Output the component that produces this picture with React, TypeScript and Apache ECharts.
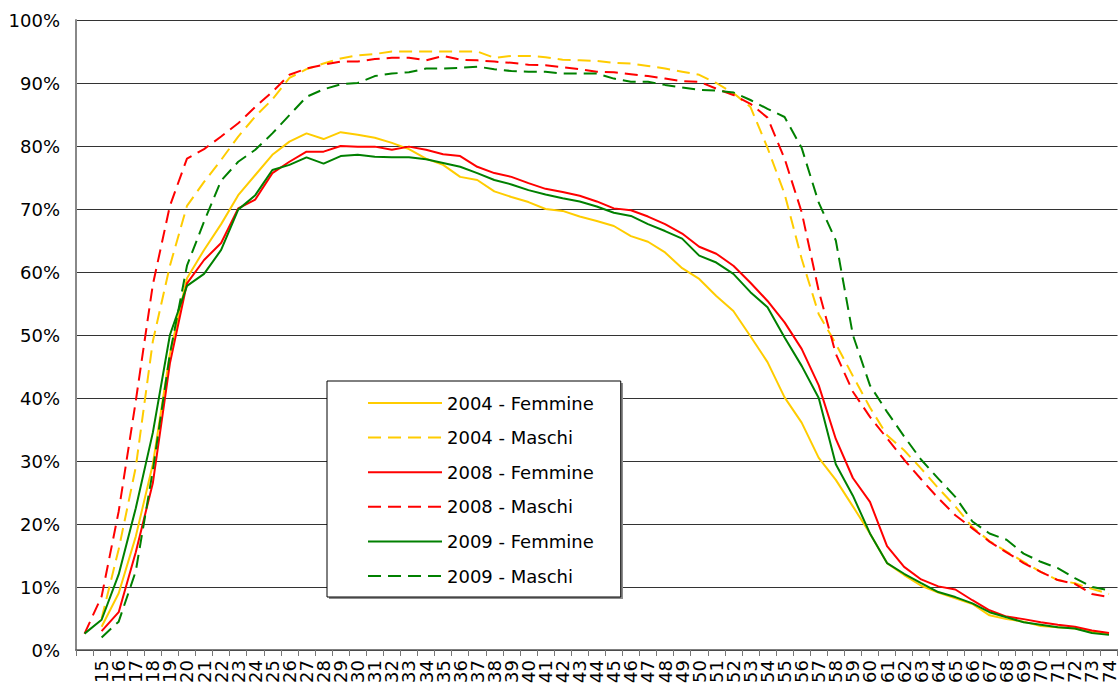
import React, { useEffect, useRef } from 'react';
import * as echarts from 'echarts';

const categories = ['', '15', '16', '17', '18', '19', '20', '21', '22', '23', '24', '25', '26', '27', '28', '29', '30', '31', '32', '33', '34', '35', '36', '37', '38', '39', '40', '41', '42', '43', '44', '45', '46', '47', '48', '49', '50', '51', '52', '53', '54', '55', '56', '57', '58', '59', '60', '61', '62', '63', '64', '65', '66', '67', '68', '69', '70', '71', '72', '73', '74'];

const yTicks = [0, 10, 20, 30, 40, 50, 60, 70, 80, 90, 100];

const f2004 = [null, 3.7, 9, 18, 29.5, 47, 59, 63.5, 67.6, 72.2, 75.4, 78.6, 80.7, 82, 81.1, 82.2, 81.8, 81.3, 80.5, 79.5, 78, 77, 75.1, 74.6, 72.8, 71.9, 71.1, 70, 69.7, 68.8, 68.1, 67.3, 65.7, 64.8, 63.1, 60.6, 58.9, 56.2, 53.8, 49.8, 45.7, 40.1, 36.1, 30.5, 27, 22.8, 18.5, 13.8, 11.9, 10.2, 9.1, 8.2, 7.3, 5.5, 4.9, 4.5, 3.8, 3.6, 3.4, 2.9, 2.6];
const m2004 = [null, 5, 16, 29, 49, 61, 70.5, 74.3, 77.8, 81.5, 84.7, 87.4, 90.8, 92.2, 93.1, 93.9, 94.4, 94.6, 95, 95, 95, 95, 95, 95, 94, 94.3, 94.3, 94.1, 93.7, 93.6, 93.5, 93.2, 93.1, 92.7, 92.3, 91.8, 91.3, 90, 88.4, 86.2, 79.7, 72.4, 62.1, 53.3, 48.6, 43.5, 38.5, 34.1, 31.7, 28.8, 25.7, 22.8, 19.5, 17.3, 15.6, 14, 12.4, 11.1, 10.6, 9.7, 8.9];
const f2008 = [null, 3.0, 6, 15.5, 26.5, 45.5, 58.2, 61.9, 64.6, 70.1, 71.5, 75.7, 77.5, 79.1, 79.1, 80, 79.9, 79.9, 79.4, 79.9, 79.4, 78.7, 78.4, 76.7, 75.7, 75.1, 74.1, 73.2, 72.7, 72.1, 71.2, 70.1, 69.8, 68.8, 67.6, 66.1, 64, 62.9, 61, 58.3, 55.4, 52, 47.8, 42, 33.5, 27.3, 23.5, 16.5, 13.2, 11.2, 10.1, 9.6, 7.9, 6.3, 5.3, 4.9, 4.4, 4.0, 3.7, 3.1, 2.7];
const m2008 = [2.6, 8.5, 22, 39.5, 58, 70.5, 78, 79.5, 81.5, 83.6, 86.2, 88.6, 91.3, 92.3, 92.9, 93.4, 93.4, 93.8, 94, 94, 93.6, 94.3, 93.7, 93.6, 93.4, 93.2, 92.9, 92.8, 92.5, 92.2, 91.8, 91.7, 91.4, 91.1, 90.7, 90.3, 90.2, 89.1, 88.1, 86.7, 84.5, 78, 69.5, 57, 47, 41, 37, 33.6, 30.2, 27.1, 24.1, 21.4, 19.3, 17.2, 15.5, 13.8, 12.4, 11.1, 10.5, 8.9, 8.4];
const f2009 = [2.6, 4.8, 12, 22.5, 34.5, 50, 57.8, 59.7, 63.5, 69.9, 72.2, 76.2, 77, 78.2, 77.2, 78.4, 78.6, 78.3, 78.2, 78.2, 77.9, 77.3, 76.7, 75.7, 74.6, 73.9, 73, 72.3, 71.7, 71.2, 70.4, 69.4, 68.9, 67.6, 66.5, 65.3, 62.6, 61.5, 59.7, 56.8, 54.4, 49.6, 45.1, 40, 29.5, 24.5, 18.5, 13.8, 12.1, 10.6, 9.2, 8.4, 7.4, 6, 5.2, 4.4, 4, 3.6, 3.4, 2.7, 2.4];
const m2009 = [null, 2, 4.5, 12.5, 28.5, 47, 61, 68, 74.5, 77.5, 79.4, 82, 84.9, 87.8, 89, 89.8, 90, 91.1, 91.5, 91.7, 92.3, 92.3, 92.4, 92.6, 92.2, 91.9, 91.8, 91.8, 91.5, 91.5, 91.5, 90.7, 90.2, 90.2, 89.7, 89.3, 88.9, 88.8, 88.5, 87.3, 85.9, 84.6, 79.7, 71, 65, 50, 42, 37.8, 33.9, 30.2, 27.2, 24.3, 20.4, 18.5, 17.5, 15.3, 14, 13, 11.4, 10, 9.5];

const seriesNames = ['2004 - Femmine', '2004 - Maschi', '2008 - Femmine', '2008 - Maschi', '2009 - Femmine', '2009 - Maschi'];
const seriesData = [f2004, m2004, f2008, m2008, f2009, m2009];
const seriesColors = ['#FFCC00', '#FFCC00', '#FF0000', '#FF0000', '#008000', '#008000'];
const seriesDashed = [false, true, false, true, false, true];

const FONT = 'DejaVu Sans';

export default function App() {
  const ref = useRef<HTMLDivElement>(null);
  useEffect(() => {
    const chart = echarts.init(ref.current!, null, { renderer: 'svg' });
    chart.setOption({
      animation: false,
      backgroundColor: '#ffffff',
      textStyle: { fontFamily: FONT, color: '#000' },
      grid: { left: 76, right: 0, top: 20, bottom: 36, containLabel: false },
      xAxis: {
        type: 'category',
        data: categories,
        boundaryGap: true,
        axisLine: { show: true, lineStyle: { color: '#555', width: 1.5 } },
        axisTick: { show: true, length: 6, interval: 0, lineStyle: { color: '#777', width: 1 } },
        axisLabel: { interval: 0, rotate: 90, margin: 10, fontSize: 18, color: '#000', fontFamily: FONT },
        splitLine: { show: false },
      },
      yAxis: {
        type: 'value',
        min: yTicks[0],
        max: yTicks[yTicks.length - 1],
        interval: 10,
        axisLine: { show: true, lineStyle: { color: '#888', width: 2 } },
        axisTick: { show: false },
        axisLabel: { formatter: '{value}%', fontSize: 18, color: '#000', margin: 16, fontFamily: FONT },
        splitLine: { show: true, lineStyle: { color: '#333', width: 1 } },
      },
      legend: {
        orient: 'vertical',
        left: 327,
        top: 381,
        padding: [13, 27, 12, 40],
        itemWidth: 74,
        itemHeight: 14,
        itemGap: 16.6,
        backgroundColor: '#fff',
        borderColor: '#000',
        borderWidth: 1,
        z: 10,
        itemStyle: { opacity: 0, borderWidth: 0 },
        textStyle: { fontSize: 18, color: '#000', fontFamily: FONT, lineHeight: 18 },
        data: seriesNames,
      },
      graphic: [
        {
          type: 'rect',
          z: 9,
          shape: { x: 329, y: 383, width: 294, height: 216 },
          style: { fill: '#8c8c8c' },
        },
      ],
      series: seriesNames.map((name, i) => ({
        name,
        type: 'line',
        data: seriesData[i],
        symbol: 'none',
        showSymbol: false,
        smooth: false,
        z: 3,
        itemStyle: { color: seriesColors[i] },
        lineStyle: {
          color: seriesColors[i],
          width: 2,
          type: seriesDashed[i] ? [13, 7] : 'solid',
        },
      })),
    });
    return () => chart.dispose();
  }, []);
  return <div ref={ref} style={{ position: 'absolute', left: 0, top: 0, width: 1118, height: 686 }} />;
}
